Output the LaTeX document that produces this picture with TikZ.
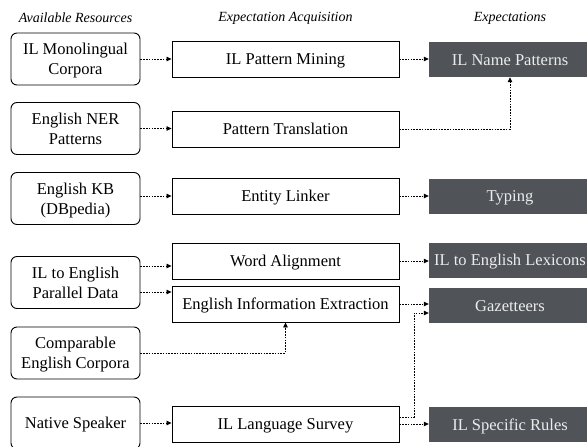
\documentclass[tikz,border=0pt]{standalone}
\usepackage{fontspec}
\setmainfont{Liberation Serif}
\newfontfamily\tnr{Liberation Serif}
\usetikzlibrary{arrows.meta,calc}
\definecolor{darkbox}{RGB}{80,83,88}
\definecolor{lighttext}{RGB}{236,236,236}
\newcommand{\nodepth}[1]{\raisebox{0pt}[\height][0pt]{#1}}
\begin{document}
\begin{tikzpicture}[x=1pt,y=-1pt,
  res/.style={draw,rounded corners=6pt,line width=0.9pt,minimum width=129pt,minimum height=52pt,align=center,font=\tnr\fontsize{16.5}{20}\selectfont,inner sep=0pt},
  proc/.style={draw,line width=0.9pt,minimum width=227pt,minimum height=36pt,font=\tnr\fontsize{16.5}{20}\selectfont,inner sep=0pt,text height=11pt,text depth=0pt},
  expt/.style={fill=darkbox,text=lighttext,minimum width=162pt,minimum height=35pt,font=\tnr\fontsize{16.5}{20}\selectfont,inner sep=0pt,text height=11pt,text depth=0pt},
  hdr/.style={font=\tnr\fontsize{14}{16}\selectfont\itshape},
  conn/.style={line width=0.8pt,dash pattern=on 1.6pt off 1.2pt,-{Triangle[length=5pt,width=4.5pt]}}]
\clip (0,0) rectangle (587,447);
\fill[white] (0,0) rectangle (587,447);
\node[hdr] (h1) at (75.5,18) {Available Resources};
\node[hdr] (h2) at (285.5,18) {Expectation Acquisition};
\node[hdr] (h3) at (510,18) {Expectations};

\node[res] (L1) at (75.5,59) {IL Monolingual\\\nodepth{Corpora}};
\node[res] (L2) at (75.5,128.5) {English NER\\\nodepth{Patterns}};
\node[res] (L3) at (75.5,198.5) {English KB\\\nodepth{(DBpedia)}};
\node[res] (L4) at (75.5,282.5) {IL to English\\\nodepth{Parallel Data}};
\node[res] (L5) at (75.5,353) {Comparable\\\nodepth{English Corpora}};
\node[res] (L6) at (75.5,423) {\nodepth{Native Speaker}};

\node[proc] (M1) at (285.5,59) {IL Pattern Mining};
\node[proc] (M2) at (285.5,129) {Pattern Translation};
\node[proc] (M3) at (285.5,196) {Entity Linker};
\node[proc] (M4) at (285.5,261) {Word Alignment};
\node[proc] (M5) at (285.5,304) {English Information Extraction};
\node[proc] (M6) at (285.5,424) {IL Language Survey};

\node[expt] (R1) at (510,59.5) {IL Name Patterns};
\node[expt] (R2) at (510,196) {Typing};
\node[expt] (R3) at (510,260) {IL to English Lexicons};
\node[expt] (R4) at (510,305.5) {Gazetteers};
\node[expt] (R5) at (510,424.5) {IL Specific Rules};

\draw[conn] (L1.east) -- (L1.east -| M1.west);
\draw[conn] (L2.east) -- (L2.east -| M2.west);
\draw[conn] (M3.west -| L3.east) -- (M3.west);
\coordinate (a1) at ([yshift=16.5pt]L4.east);
\coordinate (a2) at ([yshift=-9.5pt]L4.east);
\draw[conn] (a1) -- (a1 -| M4.west);
\draw[conn] (a2) -- (a2 -| M5.west);
\draw[conn] (L5.east) -| (M5.south);
\draw[conn] (L6.east) -- (L6.east -| M6.west);

\draw[conn] (M1.east) -- (M1.east -| R1.west);
\draw[conn] (M2.east) -| (R1.south);
\draw[conn] (M3.east) -- (M3.east -| R2.west);
\draw[conn] (M4.east) -- (M4.east -| R3.west);
\draw[conn] (M5.east) -- (M5.east -| R4.west);
\coordinate (b1) at ([yshift=7pt]M6.east);
\coordinate (b2) at ([yshift=-7.5pt]R4.west);
\draw[conn] (b1) -| ($(b1)!0.5!(b2)$) |- (b2);
\draw[conn] (M6.east) -- (M6.east -| R5.west);
\end{tikzpicture}
\end{document}
